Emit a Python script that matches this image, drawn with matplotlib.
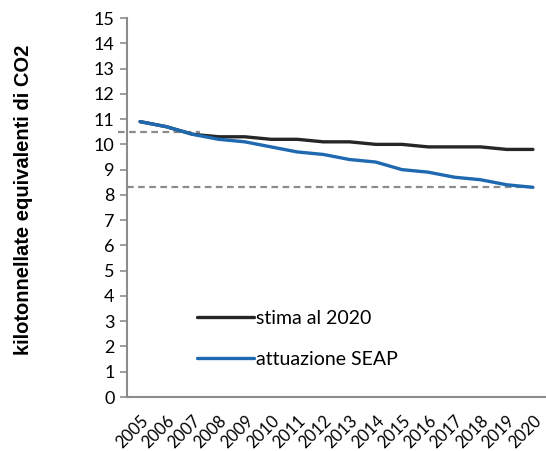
import numpy as np
import matplotlib
matplotlib.use("Agg")
import matplotlib.pyplot as plt

# anni e scenari di emissione (kt CO2 eq)
anni = [str(a) for a in range(2005, 2021)]
stima_2020 = [10.9, 10.7, 10.4, 10.3, 10.3, 10.2, 10.2, 10.1, 10.1, 10.0, 10.0, 9.9, 9.9, 9.9, 9.8, 9.8]
attuazione_seap = [10.9, 10.7, 10.4, 10.2, 10.1, 9.9, 9.7, 9.6, 9.4, 9.3, 9.0, 8.9, 8.7, 8.6, 8.4, 8.3]
livello_alto = 10.5
livello_basso = 8.3

plt.rcParams['font.family'] = ['Lato', 'DejaVu Sans']

fig = plt.figure(figsize=(5.46, 4.51), dpi=100)
ax = fig.add_axes([0.2326, 0.1197, 0.7674, 0.8403])

x = np.arange(len(anni))
gray = '#8c8c8c'

ax.plot([-0.85, 2.3], [livello_alto] * 2, ls=(0, (3, 2)), color=gray, lw=1.6, clip_on=False)
ax.plot([-0.5, x[-1]], [livello_basso] * 2, ls=(0, (3, 2)), color=gray, lw=1.6)

ax.plot(x, stima_2020, color='#262626', lw=2.4, label='stima al 2020', solid_capstyle='round')
ax.plot(x, attuazione_seap, color='#1f69b0', lw=2.4, label='attuazione SEAP', solid_capstyle='round')

ax.set_xlim(-0.5, len(anni) - 0.5)
ax.set_ylim(0, 15)
ax.set_yticks(range(0, 16))
ax.set_xticks(x)
ax.set_xticklabels(anni, rotation=45, ha='right', rotation_mode='anchor')

for s in ['top', 'right']:
    ax.spines[s].set_visible(False)
for s in ['left', 'bottom']:
    ax.spines[s].set_color(gray)
    ax.spines[s].set_linewidth(1.5)

ax.tick_params(axis='y', length=5, width=1.2, color=gray, labelsize=13, pad=4)
ax.tick_params(axis='x', length=0, labelsize=12, pad=11)

ax.set_ylabel('kilotonnellate equivalenti di CO2', fontsize=14.5, fontweight='bold',
              family='Liberation Sans')
ax.yaxis.set_label_coords(-0.224, 0.52)

ax.legend(loc='lower left', bbox_to_anchor=(0.126, 0.030), frameon=False,
          fontsize=14, handlelength=2.9, handletextpad=0.1, labelspacing=1.26)

fig.savefig('out.png', dpi=100)
